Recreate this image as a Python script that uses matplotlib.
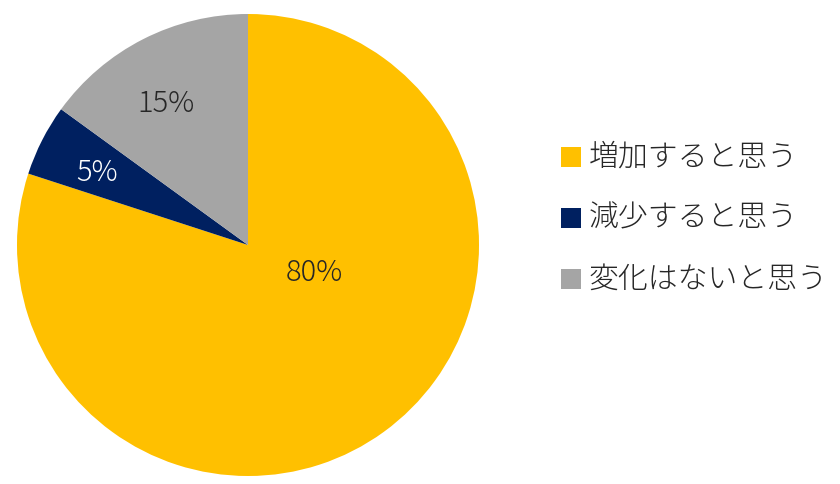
import matplotlib.pyplot as plt
from matplotlib.patches import Rectangle

plt.rcParams['font.family'] = ['Noto Sans CJK JP', 'DejaVu Sans']

# data
labels = ['増加すると思う', '減少すると思う', '変化はないと思う']
values = [80, 5, 15]
colors = ['#FFC000', '#002060', '#A5A5A5']
pct_colors = ['#262626', 'white', '#262626']

W, H = 840, 484
fig = plt.figure(figsize=(W / 100, H / 100), dpi=100)
ax = fig.add_axes([0, 0, 1, 1])

cx, cy, r = 248, H - 245, 231
ax.pie(values, colors=colors, startangle=90, counterclock=False,
       center=(cx, cy), radius=r, frame=True)
ax.set_xlim(0, W)
ax.set_ylim(0, H)
ax.set_aspect('equal')
ax.axis('off')

# label offsets from the pie centre (pixels)
offsets = [(66, -28), (-151, 72), (-82, 141)]
for v, (dx, dy), c in zip(values, offsets, pct_colors):
    ax.text(cx + dx, cy + dy, f'{v}%', ha='center', va='center',
            fontsize=21, fontweight='light', color=c)

# legend
for i, (lab, c) in enumerate(zip(labels, colors)):
    y = H - (157 + i * 61)
    ax.add_patch(Rectangle((561, y - 10), 20, 20, facecolor=c, edgecolor='none'))
    ax.text(589, y, lab, ha='left', va='center', fontsize=21.5,
            fontweight='light', color='#262626')

fig.savefig('out.png', dpi=100)
